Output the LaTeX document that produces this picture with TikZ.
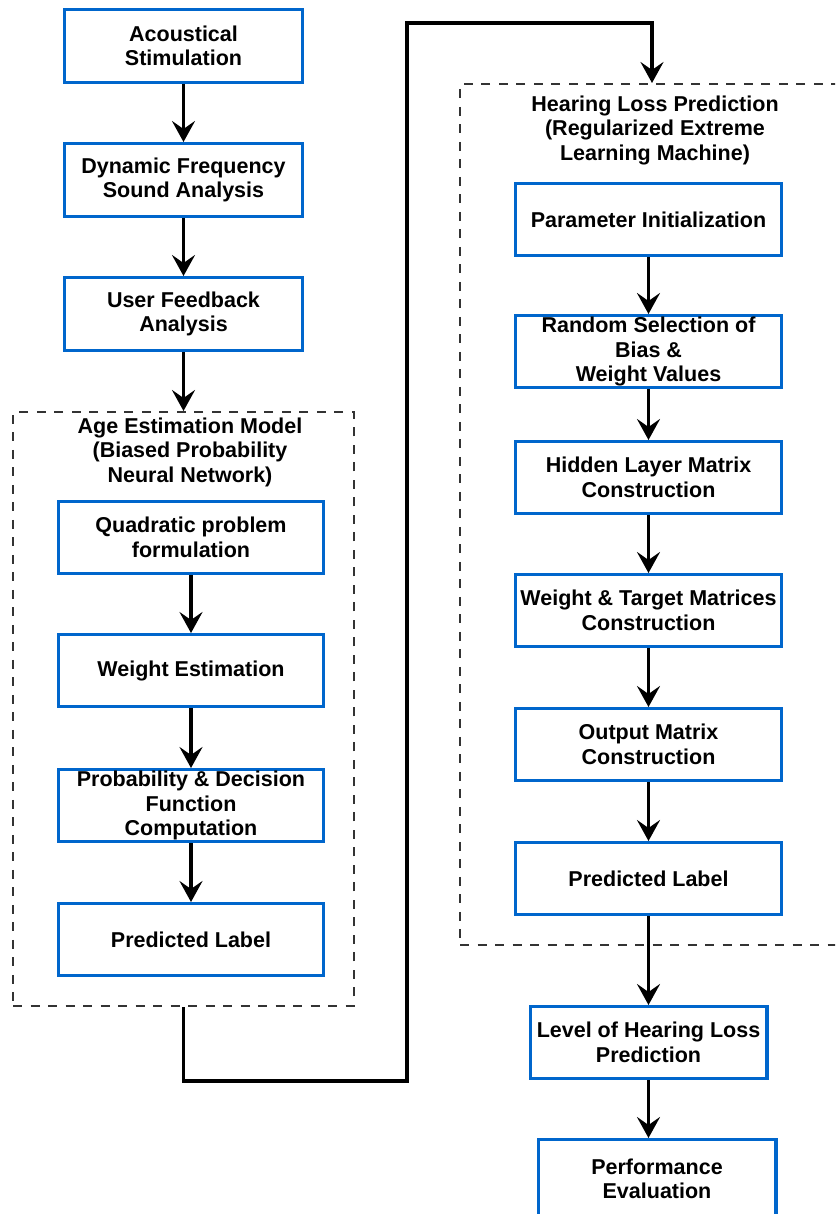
\documentclass[tikz,border=0pt]{standalone}
\usepackage{fontspec}
\newfontfamily\diagfont{Liberation Sans}
\usetikzlibrary{arrows.meta,positioning}
\definecolor{boxblue}{RGB}{0,102,204}
\definecolor{dashgray}{RGB}{51,51,51}

\begin{document}
\begin{tikzpicture}[
x=1pt, y=-1pt,
node distance=58pt,
stepbox/.style={draw=boxblue, line width=3.4pt, fill=white, align=center, inner sep=0pt, minimum width=237.6pt, minimum height=72.6pt, font=\diagfont\bfseries\fontsize{21.5}{24.5}\selectfont},
groupbox/.style={draw=dashgray, line width=2.4pt, dash pattern=on 9pt off 8.5pt, inner sep=0pt},
grouptitle/.style={align=center, inner sep=0pt, font=\diagfont\bfseries\fontsize{21.5}{24.5}\selectfont},
arrow/.style={-{Stealth[length=21pt, width=23pt, inset=8pt]}, line width=3.4pt}
]
\useasboundingbox (0,0) rectangle (835,1214);
\clip (0,0) rectangle (835,1214);

% dashed model groups
\node[groupbox, minimum width=340.6pt, minimum height=593.6pt] (age) at (183.5,709) {};
\node[groupbox, minimum width=389.6pt, minimum height=860.6pt] (hlp) at (655,514.5) {};
\node[grouptitle] (agetitle) at (190,452) {Age Estimation Model\\(Biased Probability\\Neural Network)};
\node[grouptitle] (hlptitle) at (655,130) {Hearing Loss Prediction\\(Regularized Extreme\\Learning Machine)};

% left column
\node[stepbox] (acs) at (183.5,46) {Acoustical\\Stimulation};
\node[stepbox, below=of acs] (dfs) {Dynamic Frequency\\Sound Analysis};
\node[stepbox, below=of dfs] (ufa) {User Feedback\\Analysis};

% age estimation model
\node[stepbox, minimum width=264.6pt, minimum height=71.6pt] (qpf) at (191,537.5) {Quadratic problem\\formulation};
\node[stepbox, minimum width=264.6pt, minimum height=71.6pt, below=58pt of qpf] (wes) {Weight Estimation};
\node[stepbox, minimum width=264.6pt, minimum height=71.6pt, below=60pt of wes] (pdf) {Probability \& Decision\\Function\\Computation};
\node[stepbox, minimum width=264.6pt, minimum height=71.6pt, below=59pt of pdf] (apl) {Predicted Label};

% hearing loss prediction
\node[stepbox, minimum width=265.6pt, minimum height=71.6pt] (pin) at (648.5,219.5) {Parameter Initialization};
\node[stepbox, minimum width=265.6pt, minimum height=71.6pt, below=57pt of pin] (rsb) {Random Selection of\\Bias \&\\Weight Values};
\node[stepbox, minimum width=265.6pt, minimum height=71.6pt, below=51pt of rsb] (hlm) {Hidden Layer Matrix\\Construction};
\node[stepbox, minimum width=265.6pt, minimum height=71.6pt, below=58pt of hlm] (wtm) {Weight \& Target Matrices\\Construction};
\node[stepbox, minimum width=265.6pt, minimum height=71.6pt, below=59pt of wtm] (omc) {Output Matrix\\Construction};
\node[stepbox, minimum width=265.6pt, minimum height=71.6pt, below=59pt of omc] (hpl) {Predicted Label};

% outputs
\node[stepbox, minimum width=236.6pt, minimum height=71.6pt, below=89pt of hpl] (lhl) {Level of Hearing Loss\\Prediction};
\node[stepbox, minimum height=78pt, below=58pt of lhl, xshift=8.5pt] (pev) {Performance\\Evaluation};

\draw[arrow] (acs) -- (dfs);
\draw[arrow] (dfs) -- (ufa);
\draw[arrow] (ufa) -- (age.north);
\draw[arrow] (qpf) -- (wes);
\draw[arrow] (wes) -- (pdf);
\draw[arrow] (pdf) -- (apl);
\draw[arrow] (age.south) -- ++(0,74) -| (407,23) -| ([xshift=-3pt]hlp.north);
\draw[arrow] (pin) -- (rsb);
\draw[arrow] (rsb) -- (hlm);
\draw[arrow] (hlm) -- (wtm);
\draw[arrow] (wtm) -- (omc);
\draw[arrow] (omc) -- (hpl);
\draw[arrow] (hpl) -- (lhl);
\draw[arrow] (lhl) -- (lhl |- pev.north);
\end{tikzpicture}
\end{document}
